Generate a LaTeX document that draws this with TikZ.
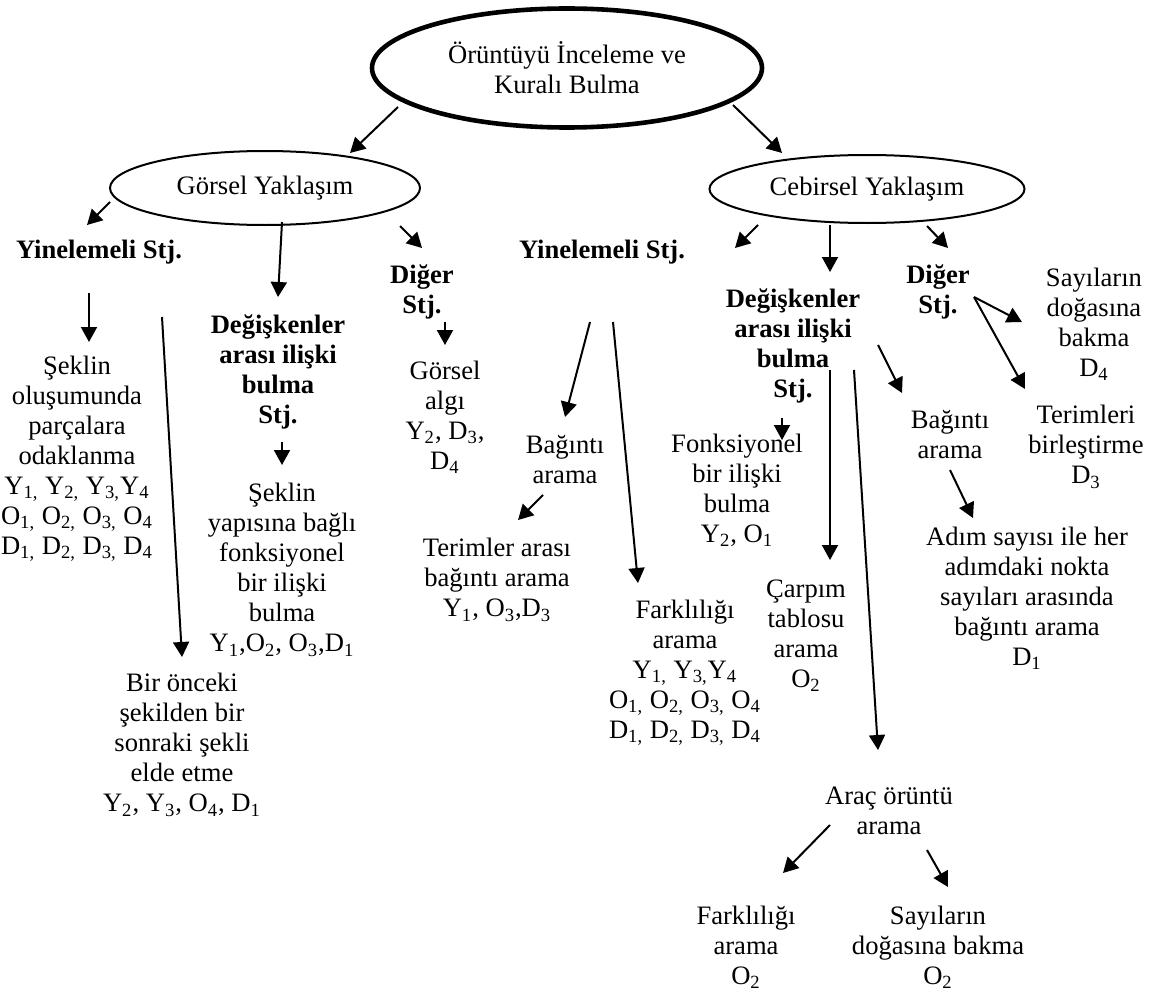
\documentclass[tikz,border=0pt]{standalone}
\usepackage{fontspec}
\setmainfont{Liberation Serif}
\usetikzlibrary{shapes.geometric,arrows.meta}
\newcommand\sbs[1]{\textsubscript{#1}}
\tikzset{
  txt/.style={align=center, inner sep=0pt, font=\fontsize{13.3}{15}\selectfont},
  btxt/.style={align=center, inner sep=0pt, font=\fontsize{13.3}{15}\selectfont\bfseries},
  oval/.style={ellipse, draw, line width=1pt, inner sep=0pt, align=center,
               font=\fontsize{13.3}{15}\selectfont},
  arr/.style={line width=1pt, -{Triangle[length=7.5pt,width=8pt]}},
  bar/.style={line width=1pt}
}
\begin{document}
\begin{tikzpicture}[x=0.5pt,y=-0.5pt]
\useasboundingbox (0,0) rectangle (1156,995);

% --- main ellipses
\node[oval, line width=2.3pt, minimum width=195pt, minimum height=59.5pt] (root) at (567,68)
  {Örüntüyü İnceleme ve\\Kuralı Bulma};
\node[oval, minimum width=155pt, minimum height=37pt] (gorsel) at (265,188) {Görsel Yaklaşım};
\node[oval, minimum width=157.5pt, minimum height=34pt] (cebir) at (867,189) {Cebirsel Yaklaşım};

% --- visual approach branch
\node[btxt] (ystjL) at (99,252) {Yinelemeli Stj.};
\node[txt] (sekilA) at (77,459) {Şeklin\\oluşumunda\\parçalara\\odaklanma\\
  Y\sbs{1,} Y\sbs{2,} Y\sbs{3,}Y\sbs{4}\\O\sbs{1,} O\sbs{2,} O\sbs{3,} O\sbs{4}\\D\sbs{1,} D\sbs{2,} D\sbs{3,} D\sbs{4}};
\node[txt] (onceki) at (182,745) {Bir önceki\\şekilden bir\\sonraki şekli\\elde etme\\Y\sbs{2}, Y\sbs{3}, O\sbs{4}, D\sbs{1}};
\node[btxt] (degL) at (278,372) {Değişkenler\\arası ilişki\\bulma\\Stj.};
\node[txt] (sekilB) at (282,570) {Şeklin\\yapısına bağlı\\fonksiyonel\\bir ilişki\\bulma\\Y\sbs{1},O\sbs{2}, O\sbs{3},D\sbs{1}};
\node[btxt] (digerL) at (422,292) {Diğer\\Stj.};
\node[txt] (algi) at (445,417) {Görsel\\algı\\Y\sbs{2}, D\sbs{3},\\D\sbs{4}};

% --- algebraic approach branch
\node[btxt] (ystjM) at (602,252) {Yinelemeli Stj.};
\node[txt] (bagM) at (565,460) {Bağıntı\\arama};
\node[txt] (terimAr) at (497,580) {Terimler arası\\bağıntı arama\\Y\sbs{1}, O\sbs{3},D\sbs{3}};
\node[txt] (farkM) at (685,673) {Farklılığı\\arama\\Y\sbs{1,} Y\sbs{3,}Y\sbs{4}\\O\sbs{1,} O\sbs{2,} O\sbs{3,} O\sbs{4}\\D\sbs{1,} D\sbs{2,} D\sbs{3,} D\sbs{4}};
\node[btxt] (degR) at (793,346) {Değişkenler\\arası ilişki\\bulma\\Stj.};
\node[txt] (fonk) at (737,490) {Fonksiyonel\\bir ilişki\\bulma\\Y\sbs{2}, O\sbs{1}};
\node[txt] (carp) at (806,636) {Çarpım\\tablosu\\arama\\O\sbs{2}};
\node[btxt] (digerR) at (938,292) {Diğer\\Stj.};
\node[txt] (sayR) at (1094,324) {Sayıların\\doğasına\\bakma\\D\sbs{4}};
\node[txt] (terimR) at (1086,447) {Terimleri\\birleştirme\\D\sbs{3}};
\node[txt] (bagR) at (950,435) {Bağıntı\\arama};
\node[txt] (adim) at (1027,598) {Adım sayısı ile her\\adımdaki nokta\\sayıları arasında\\bağıntı arama\\D\sbs{1}};
\node[txt] (arac) at (889,811) {Araç örüntü\\arama};
\node[txt] (farkB) at (746,947) {Farklılığı\\arama\\O\sbs{2}};
\node[txt] (sayB) at (938,947) {Sayıların\\doğasına bakma\\O\sbs{2}};

% --- connector end points
\coordinate (rootL) at (398,107);   \coordinate (gorselT) at (350,153);
\coordinate (rootR) at (733,105);   \coordinate (cebirT) at (782,153);
\coordinate (gorselL) at (110,202); \coordinate (ystjLT) at (87,225);
\coordinate (gorselB) at (282,222); \coordinate (degLT) at (278,297);
\coordinate (gorselR) at (400,226); \coordinate (digerLT) at (422,248);
\coordinate (ystjLB) at (89,293);   \coordinate (sekilAT) at (89,342);
\coordinate (ystjLR) at (162,317);  \coordinate (oncekiT) at (182,657);
\coordinate (degLB) at (282,442);   \coordinate (sekilBT) at (282,465);
\coordinate (digerLB) at (445,322); \coordinate (algiT) at (445,345);
\coordinate (ystjMB) at (590,322);  \coordinate (bagMT) at (565,417);
\coordinate (ystjMR) at (613,322);  \coordinate (farkMT) at (638,583);
\coordinate (bagMB) at (543,495);   \coordinate (terimArT) at (518,520);
\coordinate (cebirL) at (758,225);  \coordinate (cebirLT) at (735,248);
\coordinate (cebirB) at (830,225);  \coordinate (degRT) at (830,272);
\coordinate (cebirR) at (927,226);  \coordinate (digerRT) at (948,248);
\coordinate (degRB) at (782,418);   \coordinate (fonkT) at (782,440);
\coordinate (degRD) at (830,370);   \coordinate (carpT) at (830,560);
\coordinate (degRE) at (854,370);   \coordinate (aracT) at (878,750);
\coordinate (degRR) at (878,345);   \coordinate (bagRT) at (902,393);
\coordinate (digerRR) at (974,297); \coordinate (sayRT) at (1022,322);
\coordinate (terimRT) at (1025,389);
\coordinate (bagRB) at (950,470);   \coordinate (adimT) at (973,518);
\coordinate (aracL) at (830,825);   \coordinate (farkBT) at (783,873);
\coordinate (aracR) at (927,850);   \coordinate (sayBT) at (948,887);

% --- connectors
\draw[arr] (rootL) -- (gorselT);
\draw[arr] (rootR) -- (cebirT);
\draw[arr] (gorselL) -- (ystjLT);
\draw[arr] (gorselB) -- (degLT);
\draw[arr] (gorselR) -- (digerLT);
\draw[arr] (ystjLB) -- (sekilAT);
\draw[arr] (ystjLR) -- (oncekiT);
\draw[arr] (degLB) -- (sekilBT);
\draw[arr] (digerLB) -- (algiT);
\draw[arr] (ystjMB) -- (bagMT);
\draw[arr] (ystjMR) -- (farkMT);
\draw[arr] (bagMB) -- (terimArT);
\draw[arr] (cebirL) -- (cebirLT);
\draw[arr] (cebirB) -- (degRT);
\draw[arr] (cebirR) -- (digerRT);
\draw[arr] (degRB) -- (fonkT);
\draw[arr] (degRD) -- (carpT);
\draw[arr] (degRE) -- (aracT);
\draw[arr] (degRR) -- (bagRT);
\draw[arr] (digerRR) -- (sayRT);
\draw[arr] (digerRR) -- (terimRT);
\draw[arr] (bagRB) -- (adimT);
\draw[arr] (aracL) -- (farkBT);
\draw[arr] (aracR) -- (sayBT);
\end{tikzpicture}
\end{document}
